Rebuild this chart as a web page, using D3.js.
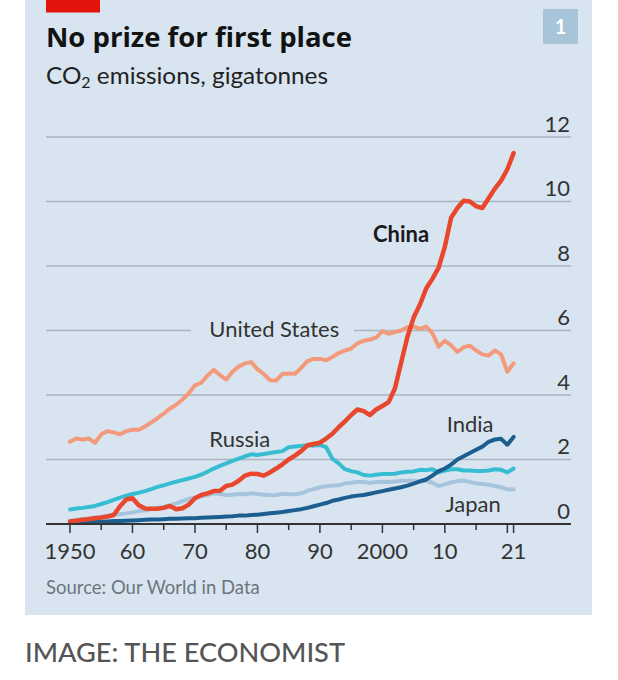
<!DOCTYPE html>
<html>
<head>
<meta charset="utf-8">
<script src="https://cdn.jsdelivr.net/npm/d3@7"></script>
<style>
  html, body { margin: 0; padding: 0; background: #fff; }
  svg { display: block; font-family: Lato, "Open Sans", sans-serif; }
</style>
</head>
<body>
<div id="chart"></div>
<script>
// CO2 emissions, gigatonnes
const years = d3.range(1950, 2022);

const china = [
  0.08, 0.10, 0.13, 0.15, 0.18, 0.20, 0.23, 0.28, 0.55, 0.76,
  0.80, 0.58, 0.48, 0.47, 0.47, 0.50, 0.56, 0.46, 0.49, 0.60,
  0.80, 0.90, 0.95, 1.02, 1.03, 1.18, 1.22, 1.34, 1.50, 1.56,
  1.55, 1.50, 1.60, 1.72, 1.85, 2.00, 2.12, 2.26, 2.44, 2.48,
  2.52, 2.65, 2.80, 3.00, 3.18, 3.38, 3.55, 3.50, 3.38, 3.55,
  3.66, 3.78, 4.20, 5.00, 5.80, 6.40, 6.80, 7.30, 7.60, 7.95,
  8.60, 9.50, 9.80, 10.02, 10.00, 9.85, 9.80, 10.10, 10.40, 10.65,
  11.00, 11.50
];

const unitedStates = [
  2.55, 2.65, 2.62, 2.65, 2.52, 2.78, 2.88, 2.84, 2.78, 2.88,
  2.92, 2.92, 3.02, 3.15, 3.28, 3.42, 3.58, 3.70, 3.86, 4.05,
  4.30, 4.38, 4.60, 4.78, 4.62, 4.48, 4.72, 4.88, 4.98, 5.02,
  4.80, 4.65, 4.46, 4.45, 4.65, 4.67, 4.66, 4.84, 5.05, 5.12,
  5.12, 5.08, 5.18, 5.30, 5.38, 5.44, 5.60, 5.68, 5.72, 5.78,
  5.98, 5.90, 5.95, 6.00, 6.10, 6.12, 6.05, 6.12, 5.92, 5.50,
  5.68, 5.54, 5.34, 5.48, 5.53, 5.38, 5.26, 5.22, 5.38, 5.26,
  4.72, 4.98
];

const russia = [
  0.45, 0.48, 0.50, 0.53, 0.56, 0.62, 0.68, 0.75, 0.82, 0.88,
  0.93, 0.97, 1.02, 1.08, 1.15, 1.20, 1.26, 1.31, 1.36, 1.41,
  1.46, 1.53, 1.62, 1.72, 1.80, 1.88, 1.96, 2.03, 2.10, 2.16,
  2.14, 2.17, 2.20, 2.23, 2.26, 2.38, 2.40, 2.42, 2.44, 2.43,
  2.45, 2.38, 2.02, 1.88, 1.70, 1.64, 1.60, 1.52, 1.50, 1.53,
  1.55, 1.55, 1.56, 1.60, 1.62, 1.63, 1.68, 1.67, 1.70, 1.60,
  1.66, 1.70, 1.70, 1.66, 1.66, 1.64, 1.64, 1.66, 1.70, 1.68,
  1.60, 1.72
];

const india = [
  0.05, 0.06, 0.06, 0.06, 0.07, 0.07, 0.08, 0.09, 0.09, 0.10,
  0.11, 0.12, 0.13, 0.14, 0.14, 0.15, 0.16, 0.16, 0.17, 0.18,
  0.18, 0.19, 0.20, 0.21, 0.22, 0.23, 0.24, 0.26, 0.26, 0.28,
  0.29, 0.31, 0.33, 0.35, 0.37, 0.40, 0.43, 0.46, 0.50, 0.55,
  0.60, 0.65, 0.72, 0.76, 0.81, 0.85, 0.88, 0.90, 0.94, 0.98,
  1.02, 1.06, 1.10, 1.14, 1.19, 1.25, 1.32, 1.38, 1.50, 1.64,
  1.72, 1.84, 2.00, 2.10, 2.20, 2.30, 2.40, 2.55, 2.62, 2.64,
  2.46, 2.70
];

const japan = [
  0.10, 0.13, 0.15, 0.18, 0.20, 0.22, 0.26, 0.30, 0.30, 0.33,
  0.36, 0.40, 0.42, 0.46, 0.50, 0.53, 0.58, 0.64, 0.71, 0.78,
  0.82, 0.86, 0.90, 0.95, 0.94, 0.90, 0.91, 0.93, 0.92, 0.95,
  0.93, 0.91, 0.89, 0.90, 0.94, 0.92, 0.92, 0.95, 1.03, 1.08,
  1.14, 1.17, 1.19, 1.20, 1.26, 1.28, 1.30, 1.30, 1.27, 1.30,
  1.31, 1.30, 1.32, 1.34, 1.34, 1.34, 1.32, 1.34, 1.28, 1.18,
  1.23, 1.29, 1.33, 1.35, 1.30, 1.26, 1.24, 1.22, 1.18, 1.14,
  1.07, 1.08
];

const yTicks = [0, 2, 4, 6, 8, 10, 12];
const xMajorTicks = [1950, 1960, 1970, 1980, 1990, 2000, 2010, 2020, 2021];
const xMinorTicks = [1955, 1965, 1975, 1985, 1995, 2005, 2015];
const xTickLabels = [
  [1950, "1950"], [1960, "60"], [1970, "70"], [1980, "80"],
  [1990, "90"], [2000, "2000"], [2010, "10"], [2021, "21"]
];

// drawing order: back to front
const series = [
  { name: "Japan", values: japan, color: "#a6c5dc" },
  { name: "Russia", values: russia, color: "#37bdd1" },
  { name: "United States", values: unitedStates, color: "#f39a7c" },
  { name: "India", values: india, color: "#1b5e8f" },
  { name: "China", values: china, color: "#e8462d" }
];

const width = 618, height = 680;
const bg = "#d8e5f0";
const ink = "#333";

const svg = d3.select("#chart").append("svg")
  .attr("width", width)
  .attr("height", height);

// panel
svg.append("rect")
  .attr("x", 25).attr("y", 0)
  .attr("width", 567).attr("height", 615)
  .attr("fill", bg);

svg.append("rect")
  .attr("x", 46).attr("y", 0)
  .attr("width", 54).attr("height", 12.5)
  .attr("fill", "#e3120b");

// chart number badge
svg.append("rect")
  .attr("x", 543).attr("y", 9)
  .attr("width", 35).attr("height", 35)
  .attr("fill", "#a8c4d9");
svg.append("text")
  .attr("x", 560.5).attr("y", 34)
  .attr("text-anchor", "middle")
  .attr("font-size", 20).attr("font-weight", 700)
  .attr("fill", "#fff")
  .text("1");

// headings
svg.append("text")
  .attr("x", 46).attr("y", 47)
  .attr("font-family", "'Open Sans', Lato, sans-serif")
  .attr("font-size", 26.5).attr("font-weight", 700)
  .attr("textLength", 306).attr("lengthAdjust", "spacingAndGlyphs")
  .attr("fill", "#121212")
  .text("No prize for first place");

const sub = svg.append("text")
  .attr("x", 46).attr("y", 83.5)
  .attr("font-size", 23)
  .attr("textLength", 282).attr("lengthAdjust", "spacingAndGlyphs")
  .attr("fill", "#222");
sub.append("tspan").text("CO");
sub.append("tspan").attr("font-size", 15).attr("dy", 4).text("2");
sub.append("tspan").attr("dy", -4).text(" emissions, gigatonnes");

// scales
const x = d3.scaleLinear().domain([1950, 2021]).range([70, 513.6]);
const y = d3.scaleLinear().domain([0, 12]).range([524, 137]);

// gridlines
svg.append("g")
  .selectAll("line")
  .data(yTicks.filter(d => d > 0))
  .join("line")
  .attr("x1", 46).attr("x2", 571)
  .attr("y1", d => y(d)).attr("y2", d => y(d))
  .attr("stroke", "#a9b5bf")
  .attr("stroke-width", 1.5);

// y labels on the right
svg.append("g")
  .selectAll("text")
  .data(yTicks)
  .join("text")
  .attr("x", 570)
  .attr("y", d => y(d) - 5.5)
  .attr("text-anchor", "end")
  .attr("font-size", 22)
  .attr("fill", ink)
  .text(d => d);

// gap in the 6 gridline behind the US label
svg.append("rect")
  .attr("x", 191).attr("y", y(6) - 3)
  .attr("width", 163).attr("height", 6)
  .attr("fill", bg);

// lines
const line = d3.line()
  .x((d, i) => x(years[i]))
  .y(d => y(d))
  .curve(d3.curveLinear);

svg.append("g")
  .selectAll("path")
  .data(series)
  .join("path")
  .attr("d", d => line(d.values))
  .attr("fill", "none")
  .attr("stroke", d => d.color)
  .attr("stroke-width", d => d.name === "China" ? 4.5 : 4)
  .attr("stroke-linejoin", "round")
  .attr("stroke-linecap", "round");

// x axis
svg.append("line")
  .attr("x1", 46).attr("x2", 571)
  .attr("y1", y(0)).attr("y2", y(0))
  .attr("stroke", ink)
  .attr("stroke-width", 2);

svg.append("g")
  .selectAll("line")
  .data(xMajorTicks.map(v => [v, 9]).concat(xMinorTicks.map(v => [v, 6])))
  .join("line")
  .attr("x1", d => x(d[0])).attr("x2", d => x(d[0]))
  .attr("y1", y(0)).attr("y2", d => y(0) + d[1])
  .attr("stroke", ink)
  .attr("stroke-width", 1.5);

svg.append("g")
  .selectAll("text")
  .data(xTickLabels)
  .join("text")
  .attr("x", d => x(d[0]))
  .attr("y", 559)
  .attr("text-anchor", "middle")
  .attr("font-size", 22)
  .attr("fill", ink)
  .text(d => d[1]);

// series labels
const labels = [
  { text: "China", year: 1998.5, value: 8.74, bold: true },
  { text: "United States", year: 1972.3, value: 5.8 },
  { text: "Russia", year: 1972.3, value: 2.4 },
  { text: "India", year: 2010.3, value: 2.85 },
  { text: "Japan", year: 2010.1, value: 0.38 }
];

svg.append("g")
  .selectAll("text")
  .data(labels)
  .join("text")
  .attr("x", d => x(d.year))
  .attr("y", d => y(d.value))
  .attr("font-size", 22)
  .attr("font-weight", d => d.bold ? 700 : 400)
  .attr("fill", d => d.bold ? "#1a1a1a" : ink)
  .text(d => d.text);

// footer
svg.append("text")
  .attr("x", 46).attr("y", 594)
  .attr("font-size", 18.5)
  .attr("fill", "#6c757d")
  .text("Source: Our World in Data");

svg.append("text")
  .attr("x", 25).attr("y", 662)
  .attr("font-size", 27)
  .attr("font-weight", 500)
  .attr("textLength", 320).attr("lengthAdjust", "spacingAndGlyphs")
  .attr("fill", "#555")
  .text("IMAGE: THE ECONOMIST");
</script>
</body>
</html>
